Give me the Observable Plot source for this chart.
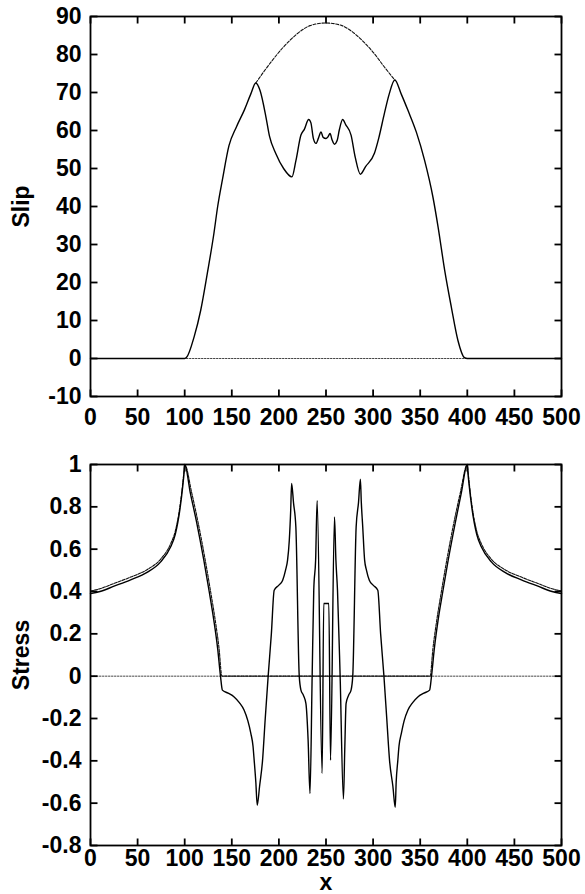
<!DOCTYPE html>
<html><head><meta charset="utf-8">
<script src="https://cdn.jsdelivr.net/npm/d3@7"></script>
<script src="https://cdn.jsdelivr.net/npm/@observablehq/plot@0.6"></script>
<style>
body{margin:0;background:#fff;}
#chart{width:585px;}
#chart svg{display:block;}
</style></head><body><div id="chart"></div>
<script>
// ---- tick values ----
const xTicks = [0, 50, 100, 150, 200, 250, 300, 350, 400, 450, 500];
const slipTicks = [-10, 0, 10, 20, 30, 40, 50, 60, 70, 80, 90];
const stressTicks = [-0.8, -0.6, -0.4, -0.2, 0, 0.2, 0.4, 0.6, 0.8, 1];

// ---- top panel: slip ----
const slipX = [0, 100, 102, 110, 117, 124, 131, 135, 140, 147, 155, 163.5, 170, 175.5,
  180, 186.2, 190, 196.8, 205, 213.8, 218, 223.4, 227, 231.6, 234, 236.5, 239.4, 242, 244.7,
  247, 250, 252, 254.3, 256.5, 258.9, 262, 264, 267.7, 271, 276.6, 281, 286.5, 292, 301.4,
  306, 312, 317, 323, 330, 337, 346, 354.6, 363.5, 369, 376, 383, 390, 397, 400, 500];
const slipY = [0, 0, 0.3, 5.7, 12.7, 22.4, 32.9, 40, 47, 56, 61, 65.5, 69.5, 72.5,
  70.5, 63.6, 58.5, 53.9, 50, 47.8, 52, 58.8, 60.3, 62.9, 62, 58, 56.6, 58, 59.6,
  58.2, 57.9, 58.3, 59.2, 57.5, 56.4, 57.5, 60, 62.9, 61.5, 58.8, 53, 48.5, 50.5, 54,
  58, 64.5, 69.5, 73.3, 69.5, 65.3, 59.5, 52.2, 42.5, 34.6, 23.2, 13.6, 4.8, 0.2, 0, 0];
const envelopeX = [175.5, 187, 198, 212, 225, 233, 250, 267, 275, 288, 301, 312, 323];
const envelopeY = [72.5, 76.5, 80, 83.8, 86.5, 87.6, 88.3, 87.6, 86.5, 83.8, 80.3, 76.7, 73.3];

// ---- bottom panel: stress ----
const stressX = [0, 10, 25, 42.6, 60, 74.5, 85, 90, 95, 98, 99.5, 100,
  106, 113, 120.3, 126, 130.9, 135, 138, 140, 146, 152.5, 158, 163, 167, 170.2, 172.5, 173.8,
  175.5, 177, 179.5, 182.6, 185.5, 188.6, 192, 195, 200, 204, 207, 209.2, 211, 212.5, 213.5,
  215.5, 218, 221.6, 223.4, 226, 228.7, 231, 233, 235.3, 237, 239, 240.6, 245.9, 247.6, 250,
  253, 254.8, 259, 260.5, 262.2, 265, 268.5, 270, 271.3, 274, 276.6, 278.4, 282, 284.5, 286.5,
  287.5, 289, 291, 293, 296, 300, 305, 308, 311.5, 314.5, 317.5, 321, 323.5, 324.5, 326.2,
  327.5, 330, 333, 337, 342, 347.5, 354, 360, 362, 365, 369, 374, 379.7, 387, 393.6, 400,
  400.5, 402, 405, 410, 415, 425.5, 440, 457.4, 475, 490, 500];
const stressY = [0.39, 0.40, 0.425, 0.455, 0.49, 0.54, 0.61, 0.67, 0.79, 0.90, 0.97, 1.0,
  0.865, 0.72, 0.548, 0.40, 0.265, 0.13, 0.0, -0.066, -0.08, -0.098, -0.125, -0.16, -0.21, -0.27, -0.33, -0.40,
  -0.50, -0.61, -0.52, -0.40, -0.2, 0.0, 0.2, 0.406, 0.43, 0.453, 0.5, 0.548, 0.64, 0.78, 0.91,
  0.82, 0.705, 0.0, -0.066, -0.09, -0.13, -0.3, -0.554, 0.0, 0.406, 0.55, 0.83, -0.46, 0.343, 0.343,
  0.343, -0.397, 0.752, 0.55, 0.406, 0.0, -0.58, -0.33, -0.13, -0.09, -0.066, 0.0, 0.705, 0.82, 0.93,
  0.82, 0.705, 0.548, 0.5, 0.453, 0.43, 0.406, 0.2, 0.0, -0.2, -0.40, -0.52, -0.62, -0.50, -0.40,
  -0.33, -0.27, -0.21, -0.16, -0.125, -0.098, -0.08, -0.066, 0.0, 0.13, 0.265, 0.40, 0.548, 0.72, 0.865, 1.0,
  0.97, 0.90, 0.79, 0.67, 0.61, 0.54, 0.49, 0.455, 0.425, 0.40, 0.39];
const elasticX = [0, 10, 25, 42.6, 60, 74.5, 85, 90, 95, 98, 99.5, 100,
  107.5, 114.5, 121.8, 127.5, 132.4, 136.5, 139.5, 360.5, 363.5, 367.6, 372.5, 378.2, 385.5, 392.5, 400,
  400.5, 402, 405, 410, 415, 425.5, 440, 457.4, 475, 490, 500];
const elasticY = [0.402, 0.413, 0.438, 0.468, 0.503, 0.553, 0.625, 0.685, 0.805, 0.915, 0.98, 1.0,
  0.865, 0.72, 0.548, 0.40, 0.265, 0.13, 0, 0, 0.13, 0.265, 0.40, 0.548, 0.72, 0.865, 1.0,
  0.98, 0.915, 0.805, 0.685, 0.625, 0.553, 0.503, 0.468, 0.438, 0.413, 0.402];
const zeroX = [0, 500];
const zeroY = [0, 0];

const zip = (xs, ys) => xs.map((x, i) => ({x, y: ys[i]}));

const chartStyle = {fontFamily: '"Liberation Sans", Arial, Helvetica, sans-serif', fontSize: "23px",
  fontWeight: "bold", background: "#fff", color: "#000", overflow: "visible"};

const W = 585, ML = 90, MR = 24, TICK = 7;
const xDomain = [0, 500];

function panel({height, marginTop, marginBottom, yDomain, yTicks, yLabel, xLabel, xPad, lines}) {
  const fmt = d => String(d);
  const innerW = W - ML - MR;
  const innerH = height - marginTop - marginBottom;
  // tick length converted from pixels into data units for each axis
  const tx = (xDomain[1] - xDomain[0]) * TICK / innerW;
  const ty = (yDomain[1] - yDomain[0]) * TICK / innerH;
  const tk = {stroke: "#000", strokeWidth: 1.8};
  return Plot.plot({
    width: W, height,
    marginLeft: ML, marginRight: MR, marginTop, marginBottom,
    style: chartStyle,
    x: {domain: xDomain, label: null},
    y: {domain: yDomain, label: null},
    marks: [
      ...lines,
      Plot.frame({stroke: "#000", strokeWidth: 1.8}),
      Plot.axisX({ticks: xTicks, anchor: "bottom", tickSize: 0, tickPadding: xPad, tickFormat: fmt,
        label: xLabel, labelAnchor: "center", labelOffset: 44, labelArrow: "none"}),
      Plot.axisY({ticks: yTicks, anchor: "left", tickSize: 0, tickPadding: 9, tickFormat: fmt,
        label: yLabel, labelAnchor: "center", labelOffset: 78, labelArrow: "none"}),
      // inward ticks on all four sides
      Plot.link(xTicks, {x1: d => d, x2: d => d, y1: () => yDomain[0], y2: () => yDomain[0] + ty, ...tk}),
      Plot.link(xTicks, {x1: d => d, x2: d => d, y1: () => yDomain[1], y2: () => yDomain[1] - ty, ...tk}),
      Plot.link(yTicks, {y1: d => d, y2: d => d, x1: () => xDomain[0], x2: () => xDomain[0] + tx, ...tk}),
      Plot.link(yTicks, {y1: d => d, y2: d => d, x1: () => xDomain[1], x2: () => xDomain[1] - tx, ...tk})
    ]
  });
}

const slipChart = panel({
  height: 440, marginTop: 16, marginBottom: 44,
  yDomain: [-10, 90], yTicks: slipTicks, yLabel: "Slip", xLabel: null, xPad: 12,
  lines: [
    Plot.lineY(zip(zeroX, zeroY), {x: "x", y: "y", stroke: "#444", strokeWidth: 1, strokeDasharray: "1.5,1.5"}),
    Plot.lineY(zip(envelopeX, envelopeY), {x: "x", y: "y", curve: "monotone-x", stroke: "#111", strokeWidth: 1.1, strokeDasharray: "3,1.6"}),
    Plot.lineY(zip(slipX, slipY), {x: "x", y: "y", curve: "monotone-x", stroke: "#000", strokeWidth: 1.4})
  ]
});

const stressChart = panel({
  height: 454, marginTop: 24, marginBottom: 49,
  yDomain: [-0.8, 1], yTicks: stressTicks, yLabel: "Stress", xLabel: "x", xPad: 4,
  lines: [
    Plot.lineY(zip(zeroX, zeroY), {x: "x", y: "y", stroke: "#444", strokeWidth: 1, strokeDasharray: "1.5,1.5"}),
    Plot.lineY(zip(elasticX, elasticY), {x: "x", y: "y", curve: "monotone-x", stroke: "#111", strokeWidth: 1.1, strokeDasharray: "3,1.2"}),
    Plot.lineY(zip(stressX, stressY), {x: "x", y: "y", curve: "monotone-x", stroke: "#000", strokeWidth: 1.4})
  ]
});

document.getElementById("chart").append(slipChart, stressChart);
</script>
</body></html>
